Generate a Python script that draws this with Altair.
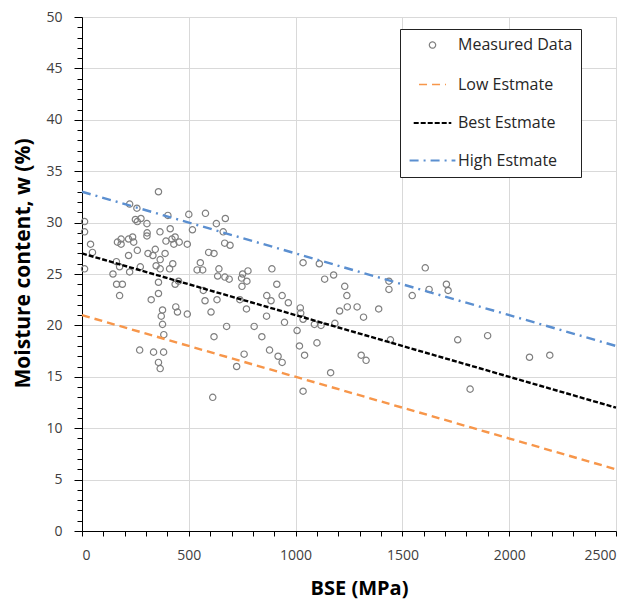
import altair as alt
import pandas as pd

# Measured data (BSE in MPa, moisture content w in %)
bse = [358, 223, 257, 12, 402, 500, 578, 671, 629, 517, 250, 276, 304, 259, 12, 365, 305, 304,
       413, 661, 40, 166, 183, 183, 237, 242, 218, 393, 421, 436, 430, 455, 493, 668, 693, 49,
       259, 218, 309, 343, 332, 366, 389, 347, 425, 410, 366, 273, 161, 176, 223, 12, 145, 162,
       189, 176, 358, 436, 452, 554, 539, 565, 593, 618, 641, 635, 669, 689, 752, 777, 747, 749,
       772, 568, 576, 632, 739, 770, 358, 324, 377, 371, 377, 383, 439, 447, 493, 604, 677, 618,
       806, 270, 335, 382, 358, 366, 724, 759, 612,
       1035, 1111, 1136, 1178, 1230, 1240, 1206, 1242, 1288, 1318, 1389, 1437, 1437, 1546, 1444,
       1307, 1330, 1184, 1164, 1119, 1088, 1100, 1022, 1024, 1035, 1007, 1018, 1042, 1035, 889,
       912, 865, 937, 885, 966, 864, 948, 842, 878, 918, 937,
       1607, 1625, 1706, 1714, 1759, 1899, 1817, 2095, 2190]
w = [33.0, 31.8, 31.4, 30.1, 30.7, 30.8, 30.9, 30.4, 29.9, 29.3, 30.3, 30.4, 29.9, 30.1, 29.1, 29.1, 29.0, 28.7,
     29.4, 29.1, 27.9, 28.1, 28.4, 27.9, 28.6, 28.1, 28.4, 28.2, 28.4, 28.6, 27.9, 28.1, 27.9, 28.0, 27.8, 27.1,
     27.3, 26.8, 27.0, 27.4, 26.8, 26.4, 27.0, 25.8, 26.0, 25.5, 25.5, 25.7, 26.2, 25.7, 25.2, 25.5, 25.0, 24.0,
     24.0, 22.9, 24.2, 24.0, 24.3, 26.1, 25.4, 25.4, 27.1, 27.0, 25.5, 24.8, 24.7, 24.5, 25.0, 25.3, 24.6, 23.8,
     24.3, 23.4, 22.4, 22.5, 22.5, 21.6, 23.1, 22.5, 21.5, 20.9, 20.1, 19.1, 21.8, 21.3, 21.1, 21.3, 19.9, 18.9,
     19.9, 17.6, 17.4, 17.4, 16.4, 15.8, 16.0, 17.2, 13.0,
     26.1, 26.0, 24.5, 24.9, 23.8, 22.9, 21.4, 21.8, 21.8, 20.8, 21.6, 24.3, 23.5, 22.9, 18.6,
     17.1, 16.6, 20.2, 15.4, 20.0, 20.1, 18.3, 21.7, 21.2, 20.6, 19.5, 18.0, 17.1, 13.6, 25.5,
     24.0, 22.9, 22.9, 22.4, 22.2, 20.9, 20.3, 18.9, 17.6, 17.0, 16.4,
     25.6, 23.5, 24.0, 23.4, 18.6, 19.0, 13.8, 16.9, 17.1]

# Estimate lines
line_x = [0, 2500]
low_y = [21, 6]
best_y = [27, 12]
high_y = [33, 18]

series_names = ["Measured Data", "Low Estmate", "Best Estmate", "High Estmate"]
series_colors = ["#7f7f7f", "#F7964A", "#000000", "#5B8FD0"]
series_shapes = ["circle", "stroke", "stroke", "stroke"]
series_dashes = [[1, 0], [8, 5], [5, 2], [9, 5, 2, 5]]
series_sizes = [40, 2100, 2100, 2100]
series_widths = [1.2, 2.2, 2.2, 2.2]

x_ticks = list(range(0, 2501, 100))
y_ticks = list(range(0, 51, 1))

pts = pd.DataFrame({"bse": bse, "w": w, "series": "Measured Data"})
lines = pd.DataFrame({
    "bse": line_x * 3,
    "w": low_y + best_y + high_y,
    "series": ["Low Estmate"] * 2 + ["Best Estmate"] * 2 + ["High Estmate"] * 2,
})

FONT = "Open Sans"

legend = alt.Legend(
    title=None, orient="none", legendX=318, legendY=12,
    fillColor="white", strokeColor="#222222", padding=8,
    labelFont=FONT, labelFontSize=16, labelColor="#262626",
    labelOffset=1, rowPadding=0, labelLimit=300,
    gridAlign="all",
)

x_enc = alt.X("bse:Q", scale=alt.Scale(domain=[0, 2500], nice=False, zero=False),
              axis=alt.Axis(
                  values=x_ticks, format="d",
                  labelExpr="datum.value % 500 === 0 ? datum.label : ''",
                  labelOverlap=False,
                  gridOpacity={"condition": {"test": "datum.value % 500 === 0", "value": 1}, "value": 0},
                  gridColor="#d9d9d9", gridWidth=1,
                  tickSize=5, tickColor="black", domainColor="black",
                  labelFont=FONT, labelFontSize=14, labelColor="#404040", labelPadding=12,
                  title="BSE (MPa)", titleFont=FONT, titleFontSize=20, titleFontWeight="bold",
                  titleColor="black", titlePadding=16, titleX=277,
              ))
y_enc = alt.Y("w:Q", scale=alt.Scale(domain=[0, 50], nice=False, zero=False),
              axis=alt.Axis(
                  values=y_ticks,
                  labelExpr="datum.value % 5 === 0 ? datum.label : ''",
                  labelOverlap=False,
                  gridOpacity={"condition": {"test": "datum.value % 5 === 0", "value": 1}, "value": 0},
                  tickSize={"condition": {"test": "datum.value % 5 === 0", "value": 8}, "value": 5},
                  gridColor="#d9d9d9", gridWidth=1,
                  tickColor="black", domainColor="black",
                  labelFont=FONT, labelFontSize=14, labelColor="#404040", labelPadding=12,
                  title="Moisture content, w (%)", titleFont=FONT, titleFontSize=21,
                  titleFontWeight="bold", titleColor="black", titlePadding=12, titleY=246,
              ))

color = alt.Color("series:N", scale=alt.Scale(domain=series_names, range=series_colors), legend=legend)
shape = alt.Shape("series:N", scale=alt.Scale(domain=series_names, range=series_shapes), legend=legend)
dash = alt.StrokeDash("series:N", scale=alt.Scale(domain=series_names, range=series_dashes), legend=legend)
size = alt.Size("series:O", scale=alt.Scale(domain=series_names, range=series_sizes), legend=legend)
swidth = alt.StrokeWidth("series:O", scale=alt.Scale(domain=series_names, range=series_widths), legend=legend)

points = alt.Chart(pts).mark_point(filled=False, opacity=1).encode(
    x=x_enc, y=y_enc, color=color, shape=shape, size=size, strokeWidth=swidth
)
est = alt.Chart(lines).mark_line(strokeWidth=2.4).encode(
    x=x_enc, y=y_enc, color=color, strokeDash=dash
)

chart = alt.layer(points, est).properties(
    width=534, height=514,
    autosize=alt.AutoSizeParams(type="none"),
    padding={"left": 74, "top": 9, "right": 10, "bottom": 70},
).configure_view(stroke="black", strokeWidth=1).configure(background="white")

chart.save("out.html", embed_options={"renderer": "svg", "actions": False})
